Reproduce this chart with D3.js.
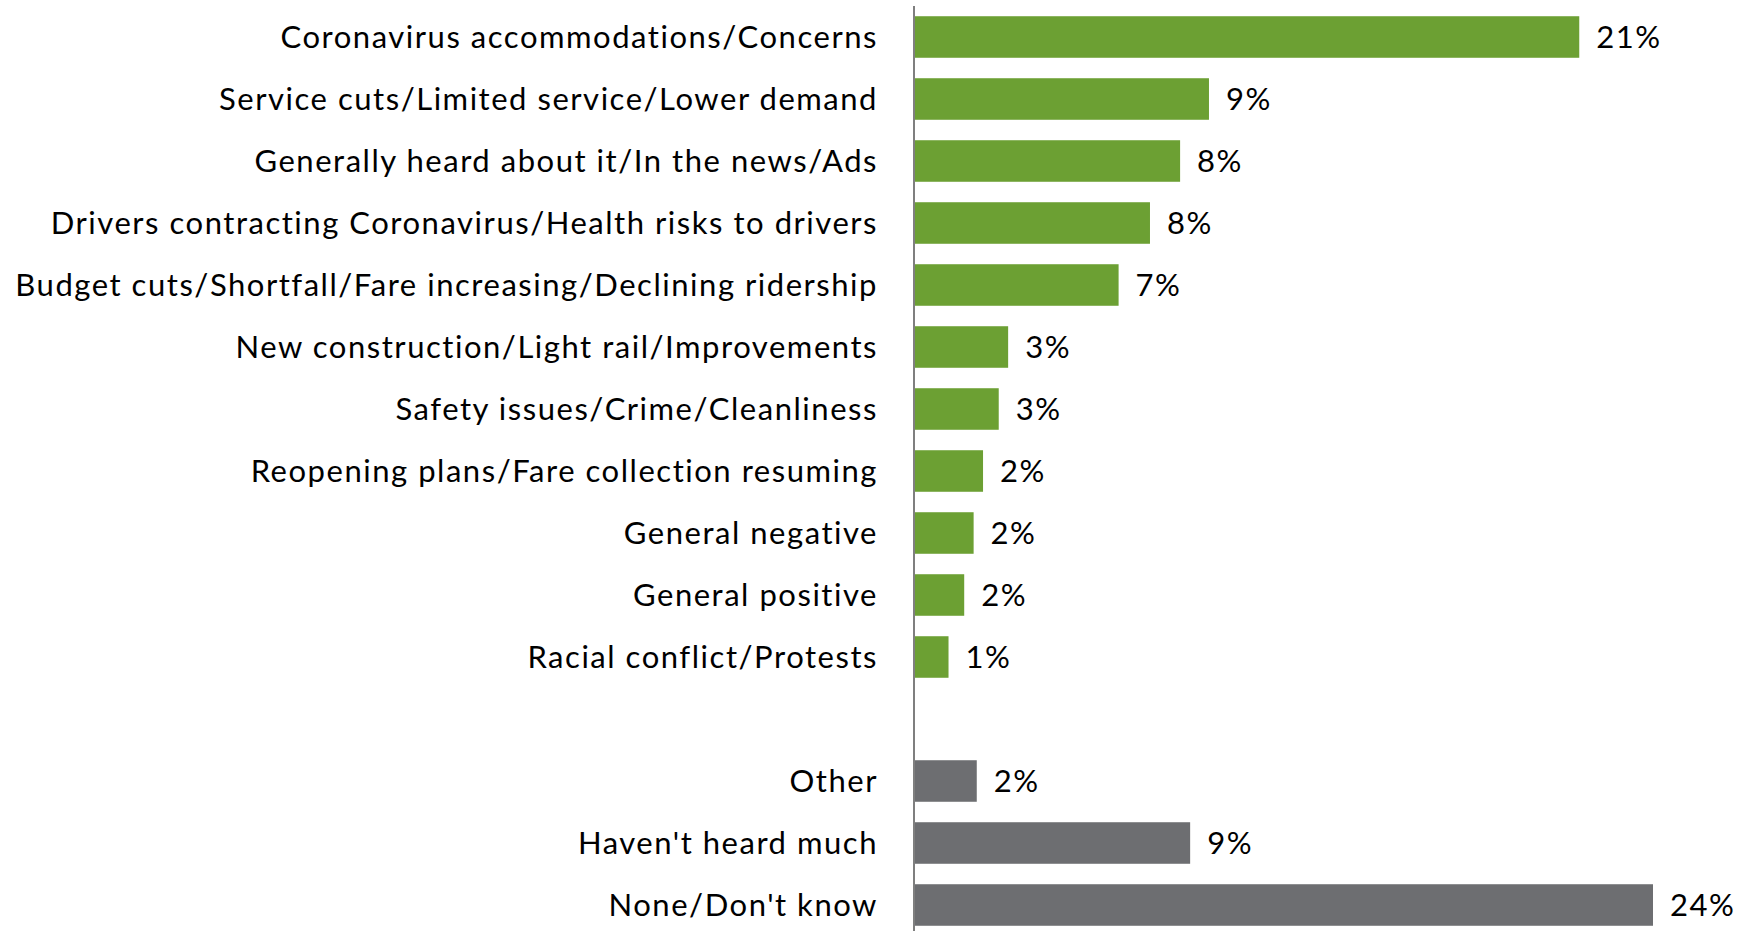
<!DOCTYPE html>
<html>
<head>
<meta charset="utf-8">
<script src="https://cdn.jsdelivr.net/npm/d3@7"></script>
<style>
  html, body { margin: 0; padding: 0; background: #ffffff; }
  svg { display: block; }
  text { font-family: Lato, "Open Sans", sans-serif; fill: #000; }
</style>
</head>
<body>
<svg id="chart" width="1737" height="931"></svg>
<script>
// What riders have heard about transit recently (share of responses, %)
const topicLabels = [
  "Coronavirus accommodations/Concerns",
  "Service cuts/Limited service/Lower demand",
  "Generally heard about it/In the news/Ads",
  "Drivers contracting Coronavirus/Health risks to drivers",
  "Budget cuts/Shortfall/Fare increasing/Declining ridership",
  "New construction/Light rail/Improvements",
  "Safety issues/Crime/Cleanliness",
  "Reopening plans/Fare collection resuming",
  "General negative",
  "General positive",
  "Racial conflict/Protests"
];
const topicValues = [21.2, 9.4, 8.48, 7.52, 6.52, 3.0, 2.7, 2.2, 1.9, 1.6, 1.1];

const otherLabels = ["Other", "Haven't heard much", "None/Don't know"];
const otherValues = [2.0, 8.8, 23.55];

const topicColor = "#6ca033";
const otherColor = "#6d6e71";

// Rows: topics, one empty spacer row, then the remaining answers
const spacerKey = "__spacer__";
const rows = [
  ...topicLabels.map((label, i) => ({ key: label, label, value: topicValues[i], color: topicColor })),
  { key: spacerKey, label: "", value: null, color: null },
  ...otherLabels.map((label, i) => ({ key: label, label, value: otherValues[i], color: otherColor }))
];

const svg = d3.select("#chart");
const axisX = 914;
const labelRight = 878;
const longestLabelWidth = 862;
const fontSize = 31;

const y = d3.scaleBand()
  .domain(rows.map(d => d.key))
  .range([6, 936])
  .paddingInner(0.33)
  .paddingOuter(0.165);

const x = d3.scaleLinear()
  .domain([0, 25])
  .range([axisX, axisX + 25 * 31.38]);

const pct = v => d3.format(".0f")(v) + "%";

const bars = rows.filter(d => d.value !== null);

// Bars
svg.append("g")
  .selectAll("rect")
  .data(bars)
  .join("rect")
  .attr("x", x(0))
  .attr("y", d => y(d.key))
  .attr("width", d => x(d.value) - x(0))
  .attr("height", y.bandwidth())
  .attr("fill", d => d.color);

// Category axis: vertical line plus right-aligned labels
const yAxis = d3.axisLeft(y)
  .tickSize(0)
  .tickPadding(axisX - labelRight)
  .tickFormat(k => (k === spacerKey ? "" : k));

const axisG = svg.append("g")
  .attr("transform", `translate(${axisX},0)`)
  .call(yAxis);

axisG.select(".domain")
  .attr("d", `M0,6V931`)
  .attr("stroke", "#7f7f7f")
  .attr("stroke-width", 2);

const tickText = axisG.selectAll(".tick text")
  .attr("font-size", fontSize)
  .attr("font-family", "Lato, 'Open Sans', sans-serif")
  .attr("fill", "#000")
  .attr("dy", "0.36em");

// Open the letter spacing a little so the longest label spans the label column
let widest = null, widestW = 0;
tickText.each(function () {
  const w = this.getComputedTextLength();
  if (w > widestW) { widestW = w; widest = this; }
});
const nChars = widest ? widest.textContent.length : 1;
const spacing = Math.max(0, (longestLabelWidth - widestW) / nChars);
tickText.attr("letter-spacing", spacing);

// Value labels
svg.append("g")
  .selectAll("text")
  .data(bars)
  .join("text")
  .attr("x", d => x(d.value) + 17)
  .attr("y", d => y(d.key) + y.bandwidth() / 2)
  .attr("dy", "0.36em")
  .attr("font-size", fontSize)
  .attr("letter-spacing", spacing)
  .text(d => pct(d.value));
</script>
</body>
</html>
